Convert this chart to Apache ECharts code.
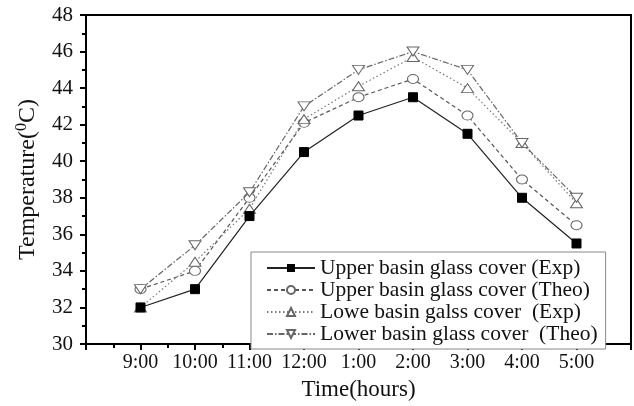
<!DOCTYPE html>
<html>
<head>
<meta charset="utf-8">
<script src="https://cdn.jsdelivr.net/npm/echarts@6/dist/echarts.min.js"></script>
<style>html,body{margin:0;padding:0;background:#fff}#c{width:634px;height:406px}</style>
</head>
<body>
<div id="c"></div>
<script>
var categories = ['9:00','10:00','11:00','12:00','1:00','2:00','3:00','4:00','5:00'];
var seriesNames = ['Upper basin glass cover (Exp)','Upper basin glass cover (Theo)','Lowe basin galss cover  (Exp)','Lower basin glass cover  (Theo)'];
var upperExp  = [32, 33, 37, 40.5, 42.5, 43.5, 41.5, 38, 35.5];
var upperTheo = [33, 34, 38, 42.1, 43.5, 44.5, 42.5, 39, 36.5];
var lowerExp  = [32, 34.5, 37.4, 42.3, 44.1, 45.7, 44, 41, 37.7];
var lowerTheo = [33, 35.4, 38.3, 43, 45, 46, 45, 41, 38];
var yTicks = [30,32,34,36,38,40,42,44,46,48];

var FONT = '"Liberation Serif","Times New Roman",serif';
function pairs(arr){ return arr.map(function(v,i){ return [i+9, v]; }); }

var chart = echarts.init(document.getElementById('c'));
chart.setOption({
  animation: false,
  backgroundColor: '#fff',
  grid: {left: 86, right: 3, top: 15, bottom: 59, show: true, borderColor: '#000', borderWidth: 2, backgroundColor: 'transparent'},
  legend: {
    left: 251, top: 252, orient: 'vertical',
    padding: [5, 8, 4, 15], itemGap: 0,
    itemWidth: 48, itemHeight: 10,
    borderColor: '#888', borderWidth: 1, backgroundColor: '#fff',
    textStyle: {fontFamily: FONT, fontSize: 21.5, color: '#111', lineHeight: 20.5},
    data: seriesNames
  },
  xAxis: {
    type: 'value', min: 8, max: 18, interval: 1,
    name: 'Time(hours)', nameLocation: 'middle', nameGap: 34,
    nameTextStyle: {fontFamily: FONT, fontSize: 23, color: '#111'},
    axisLine: {lineStyle: {color: '#000', width: 2}},
    axisTick: {show: true, inside: false, length: 6, lineStyle: {color: '#000', width: 2}},
    minorTick: {show: true, splitNumber: 2, length: 4, lineStyle: {color: '#000', width: 2}},
    splitLine: {show: false},
    axisLabel: {
      margin: 9, fontFamily: FONT, fontSize: 20, color: '#111',
      formatter: function(v){ var i = Math.round(v) - 9; return (i >= 0 && i < categories.length) ? categories[i] : ''; }
    }
  },
  yAxis: {
    type: 'value', min: yTicks[0], max: yTicks[yTicks.length-1], interval: 2,
    name: '{a|Temperature(}{sup|0}{a|C)}', nameLocation: 'middle', nameGap: 44, nameRotate: 90,
    nameTextStyle: {fontFamily: FONT, fontSize: 24, color: '#111',
      rich: {a: {fontFamily: FONT, fontSize: 24, color: '#111'}, sup: {fontFamily: FONT, fontSize: 16, color: '#111', padding: [0,0,12,0]}}},
    axisLine: {show: true, lineStyle: {color: '#000', width: 2}},
    axisTick: {show: true, inside: false, length: 6, lineStyle: {color: '#000', width: 2}},
    minorTick: {show: true, splitNumber: 2, length: 4, lineStyle: {color: '#000', width: 2}},
    splitLine: {show: false},
    axisLabel: {margin: 13, fontFamily: FONT, fontSize: 21, color: '#111'}
  },
  series: [
    {name: seriesNames[0], type: 'line', data: pairs(upperExp), symbol: 'rect', symbolSize: 9,
     lineStyle: {color: '#222', width: 1.2, type: 'solid'}, itemStyle: {color: '#000', borderColor: '#000'}, z: 5},
    {name: seriesNames[1], type: 'line', data: pairs(upperTheo), symbol: 'circle', symbolSize: [11, 9],
     lineStyle: {color: '#555', width: 1.2, type: [4, 3]}, itemStyle: {color: '#fff', borderColor: '#666', borderWidth: 1}, z: 3},
    {name: seriesNames[2], type: 'line', data: pairs(lowerExp), symbol: 'path://M5,0 L10,9 L0,9 Z', symbolSize: [12, 9],
     lineStyle: {color: '#777', width: 1.2, type: [1.5, 2.5]}, itemStyle: {color: '#fff', borderColor: '#666', borderWidth: 1}, z: 4},
    {name: seriesNames[3], type: 'line', data: pairs(lowerTheo), symbol: 'path://M0,0 L10,0 L5,9 Z', symbolSize: [12, 9],
     lineStyle: {color: '#666', width: 1.2, type: [6, 2, 1.5, 2]}, itemStyle: {color: '#fff', borderColor: '#666', borderWidth: 1}, z: 4}
  ]
});
</script>
</body>
</html>
